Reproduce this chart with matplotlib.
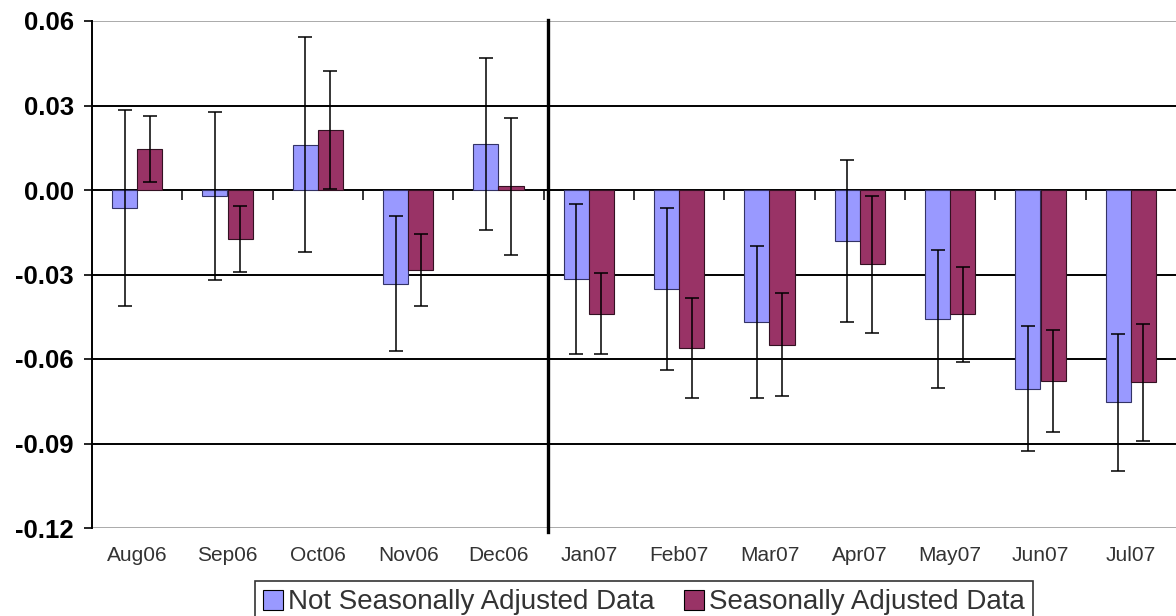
import matplotlib.pyplot as plt
import numpy as np

plt.rcParams['font.family'] = ['Liberation Sans', 'DejaVu Sans']

months = ['Aug06', 'Sep06', 'Oct06', 'Nov06', 'Dec06', 'Jan07',
          'Feb07', 'Mar07', 'Apr07', 'May07', 'Jun07', 'Jul07']
not_adj = [-0.0064, -0.0022, 0.0161, -0.0332, 0.0163, -0.0315,
           -0.0351, -0.0470, -0.0182, -0.0458, -0.0705, -0.0754]
not_adj_err = [0.0348, 0.0299, 0.0381, 0.0238, 0.0305, 0.0266,
               0.0287, 0.0270, 0.0287, 0.0246, 0.0221, 0.0243]
adj = [0.0146, -0.0173, 0.0213, -0.0284, 0.0014, -0.0439,
       -0.0562, -0.0549, -0.0264, -0.0442, -0.0678, -0.0683]
adj_err = [0.0118, 0.0117, 0.0208, 0.0127, 0.0243, 0.0145,
           0.0178, 0.0182, 0.0242, 0.0168, 0.0180, 0.0209]
yticks = [0.06, 0.03, 0.00, -0.03, -0.06, -0.09, -0.12]

x = np.arange(len(months))
w = 0.28

fig = plt.figure(figsize=(11.76, 6.16), dpi=100)
ax = fig.add_axes([92 / 1176, 88 / 616, 1 - 92 / 1176, (528 - 21) / 616])

# gridlines behind bars
for v in yticks[1:-1]:
    ax.axhline(v, color='black', lw=1.4, zorder=1)
ax.axhline(0.06, color='#aaaaaa', lw=1.4, zorder=1)
ax.axhline(-0.12, color='#aaaaaa', lw=1.4, zorder=1)

ax.bar(x - w / 2, not_adj, w, color='#9999ff', edgecolor='#333366', lw=0.8,
       zorder=2, label='Not Seasonally Adjusted Data')
ax.bar(x + w / 2, adj, w, color='#993366', edgecolor='#331122', lw=0.8,
       zorder=2, label='Seasonally Adjusted Data')
ax.errorbar(x - w / 2, not_adj, yerr=not_adj_err, fmt='none', ecolor='black',
            elinewidth=1.1, capsize=4.8, capthick=1.1, zorder=3)
ax.errorbar(x + w / 2, adj, yerr=adj_err, fmt='none', ecolor='black',
            elinewidth=1.1, capsize=4.8, capthick=1.1, zorder=3)

# small category ticks along the zero line
bounds = x[:-1] + 0.5
ax.vlines(bounds, -0.0035, 0, color='black', lw=1.1, zorder=1)

# break between 2006 and 2007
ax.plot([4.55, 4.55], [0.0605, -0.1215], color='black', lw=2.4,
        clip_on=False, zorder=4)

ax.set_xlim(-0.5, len(months) - 0.5)
ax.set_ylim(-0.12, 0.06)
ax.set_yticks(yticks)
ax.set_yticklabels(['%.2f' % v for v in yticks], fontsize=18.5,
                   fontweight='bold')
ax.tick_params(axis='y', length=6, width=1.2, pad=7)
ax.set_xticks(x)
ax.set_xticklabels(months, fontsize=15, color='#333333')
ax.tick_params(axis='x', length=0, pad=13)

for s in ['top', 'right', 'bottom']:
    ax.spines[s].set_visible(False)
ax.spines['left'].set_linewidth(1.4)

leg = fig.legend(loc='upper left', bbox_to_anchor=(255 / 1176, 1 - 581 / 616),
                 ncol=2, fontsize=20, frameon=True, fancybox=False,
                 edgecolor='black', handlelength=0.72, handleheight=0.72,
                 handletextpad=0.18, columnspacing=1.05, borderpad=0.3,
                 borderaxespad=0)
leg.get_frame().set_linewidth(1.2)
for t in leg.get_texts():
    t.set_color('#333333')
for h in leg.legend_handles:
    h.set_edgecolor('black')

fig.savefig('out.png', dpi=100)
